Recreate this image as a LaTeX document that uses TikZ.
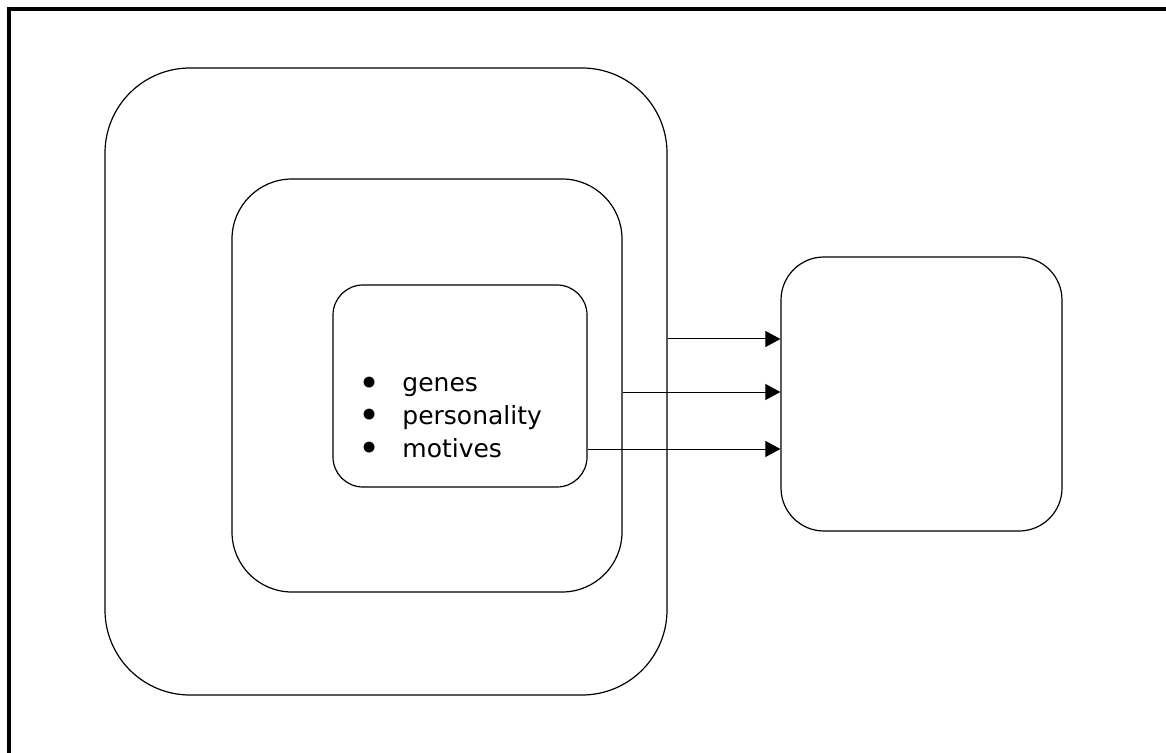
\documentclass[tikz,border=0pt]{standalone}
\usepackage{fontspec}
\setmainfont{DejaVu Sans}
\usetikzlibrary{arrows.meta}
\tikzset{>={Triangle[length=7.5pt,width=8pt]}}
\colorlet{frame}{black}
\tikzstyle{arrow}=[->,line width=0.5pt]
\newcommand{\bigbullet}{\makebox[7.4pt][c]{\smash{\raisebox{-0.17em}{\scalebox{1.5}{•}}}}\hspace{12.8pt}}

\begin{document}
\begin{tikzpicture}[x=0.5pt,y=-0.5pt,
    box/.style={draw,line width=0.6pt,inner sep=0pt,rounded corners=#1},
    item/.style={anchor=base west,inner sep=0pt,font=\fontsize{12.5}{15}\selectfont}
  ]
  \useasboundingbox (0,0) rectangle (1166,753);

  % FRAME
  \begin{scope}
    \clip (0,0) rectangle (1166,753);
    \draw[frame,line width=2pt] (9,9) rectangle (1190,780);
  \end{scope}

  % BOXES
  \node[box=42.5pt,minimum width=281pt,minimum height=313.5pt] (outer)  at (386,381.5) {};
  \node[box=30pt,minimum width=195pt,minimum height=206.5pt]   (middle) at (427,385.5) {};
  \node[box=15pt,minimum width=127pt,minimum height=101pt]     (inner)  at (460,386) {};
  \node[box=21.5pt,minimum width=140.5pt,minimum height=137pt] (target) at (921.5,394) {};

  % ITEMS
  \foreach \txt [count=\i, evaluate={\yb=392+32.75*(\i-1);}] in {genes,personality,motives}{
    \node[item] (item\i) at (361.6,\yb) {\bigbullet\txt};
  }

  % ARROWS
  \coordinate (r1) at (0,339);
  \coordinate (r2) at (0,392);
  \coordinate (r3) at (0,449);
  \draw[arrow] (outer.east |- r1)  -- (target.west |- r1);
  \draw[arrow] (middle.east |- r2) -- (target.west |- r2);
  \draw[arrow] (inner.east |- r3)  -- (target.west |- r3);

\end{tikzpicture}
\end{document}
